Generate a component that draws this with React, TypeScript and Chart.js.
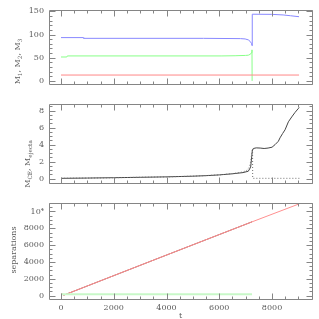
import React, { useEffect, useRef } from 'react';
import { Chart, registerables } from 'chart.js';
Chart.register(...registerables);

// ---------- data ----------
const T_MIN = -455;
const T_MAX = 9515;
const xTicks = [0, 2000, 4000, 6000, 8000];
const xTickLabels = ['0', '2000', '4000', '6000', '8000'];

// panel 1: masses
const m1T = [0, 840, 860, 5400, 6800, 6980, 7100, 7170, 7220, 7242, 7250, 7990, 8420, 8700, 9024];
const m1V = [93.4, 93.4, 91.8, 91.8, 91.2, 90.5, 88.5, 85.2, 81, 76, 143.8, 143.5, 142.2, 140.5, 138.4];
const m2T = [0, 220, 240, 6100, 6600, 7000, 7100, 7180, 7220, 7240, 7245];
const m2V = [51.6, 51.6, 53.9, 53.9, 54.3, 55, 55.5, 57.5, 61, 67, 0];
const m3T = [0, 9024];
const m3V = [12.7, 12.7];
const y1Ticks = [0, 50, 100, 150];
const y1TickLabels = ['0', '50', '100', '150'];

// panel 2: common-envelope and ejecta mass
const mceT = [0, 1000, 2000, 3000, 4000, 5000, 5500, 6000, 6500, 6900, 7100, 7190, 7230, 7250, 7290, 7400, 7550, 7700, 7850, 8000, 8114, 8240, 8303, 8400, 8493, 8620, 8746, 8872, 8998, 9036];
const mceV = [0.05, 0.08, 0.12, 0.17, 0.22, 0.3, 0.36, 0.45, 0.58, 0.72, 0.88, 1.36, 2.6, 3.24, 3.55, 3.62, 3.6, 3.55, 3.6, 3.7, 4.0, 4.4, 4.8, 5.3, 5.74, 6.68, 7.25, 7.78, 8.25, 8.35];
const mejT = [0, 1000, 2000, 3000, 4000, 5000, 6000, 6500, 6900, 7050, 7150, 7200, 7230, 7250, 7262, 7266, 9036];
const mejV = [0.05, 0.08, 0.12, 0.17, 0.22, 0.3, 0.45, 0.6, 0.8, 1.0, 1.4, 2.2, 3.0, 3.45, 3.55, 0.05, 0.05];
const y2Ticks = [0, 2, 4, 6, 8];
const y2TickLabels = ['0', '2', '4', '6', '8'];

// panel 3: separations
const sepAT = [0, 110, 3750, 7170, 9030];
const sepAV = [260, 70, 4520, 8680, 10900];
const sepBT = [0, 110, 3750, 7170, 7242];
const sepBV = [260, 70, 4520, 8680, 8770];
const sepCT = [0, 7242];
const sepCV = [170, 170];
const y3Ticks = [0, 2000, 4000, 6000, 8000, 10000];
const y3TickLabels = ['0', '2000', '4000', '6000', '8000', '10⁴'];

// ---------- styling ----------
const FONT = '"DejaVu Serif", serif';
const FRAME = '#858585';
const TEXT = '#5c5c5c';

type Part = { t: string; sub?: boolean };

function pts(t: number[], v: number[]) {
  return t.map((x, i) => ({ x, y: v[i] }));
}

function drawRich(ctx: CanvasRenderingContext2D, parts: Part[], x: number, y: number, rot: number, size: number) {
  ctx.save();
  ctx.translate(x, y);
  ctx.rotate(rot);
  ctx.fillStyle = TEXT;
  ctx.textBaseline = 'alphabetic';
  ctx.textAlign = 'left';
  const widths = parts.map((p) => {
    ctx.font = `${p.sub ? size * 0.72 : size}px ${FONT}`;
    return ctx.measureText(p.t).width;
  });
  const total = widths.reduce((a, b) => a + b, 0);
  let cx = -total / 2;
  parts.forEach((p, i) => {
    ctx.font = `${p.sub ? size * 0.72 : size}px ${FONT}`;
    ctx.fillText(p.t, cx, p.sub ? size * 0.3 : 0);
    cx += widths[i];
  });
  ctx.restore();
}

function range(a: number, b: number, step: number) {
  const out: number[] = [];
  for (let v = Math.ceil(a / step) * step; v <= b + 1e-9; v += step) out.push(v);
  return out;
}

interface PanelDef {
  top: number;
  bottomPad: number;
  yMin: number;
  yMax: number;
  yTicks: number[];
  yLabels: string[];
  yMinor: number;
  showX: boolean;
  datasets: any[];
  title: Part[];
  titleX: number;
  titleY: number;
}

const MAJ = 6;
const MIN = 3;

function makeFramePlugin(p: PanelDef) {
  return {
    id: 'frameTicks',
    afterDatasetsDraw(chart: any) {
      const { ctx, chartArea: a, scales } = chart;
      const xs = scales.x;
      const ys = scales.y;
      ctx.save();
      ctx.strokeStyle = FRAME;
      ctx.lineWidth = 1;
      const L = Math.round(a.left) + 0.5;
      const R = Math.round(a.right) + 0.5;
      const T = Math.round(a.top) + 0.5;
      const B = Math.round(a.bottom) + 0.5;
      ctx.beginPath();
      ctx.rect(L, T, R - L, B - T);
      ctx.stroke();
      ctx.beginPath();
      const xMinor = range(T_MIN, T_MAX, 500);
      xMinor.forEach((v) => {
        const px = Math.round(xs.getPixelForValue(v)) + 0.5;
        const len = xTicks.includes(v) ? MAJ : MIN;
        ctx.moveTo(px, B); ctx.lineTo(px, B - len);
        ctx.moveTo(px, T); ctx.lineTo(px, T + len);
      });
      const yMinor = range(p.yMin, p.yMax, p.yMinor);
      yMinor.forEach((v) => {
        const py = Math.round(ys.getPixelForValue(v)) + 0.5;
        const len = p.yTicks.some((t) => Math.abs(t - v) < 1e-9) ? MAJ : MIN;
        ctx.moveTo(L, py); ctx.lineTo(L + len, py);
        ctx.moveTo(R, py); ctx.lineTo(R - len, py);
      });
      ctx.stroke();
      ctx.restore();
    },
    afterDraw(chart: any) {
      const { ctx, chartArea: a } = chart;
      drawRich(ctx, p.title, p.titleX, p.titleY, -Math.PI / 2, 8);
      if (p.showX) {
        drawRich(ctx, [{ t: 't' }], (a.left + a.right) / 2, 318, 0, 8);
      }
    },
  };
}

function line(data: { x: number; y: number }[], color: string, width = 1, dash: number[] = []) {
  return {
    data,
    showLine: true,
    borderColor: color,
    backgroundColor: color,
    borderWidth: width,
    borderDash: dash,
    pointRadius: 0,
    tension: 0,
    fill: false,
  };
}

const panels: PanelDef[] = [
  {
    top: 7,
    bottomPad: 319 - 104,
    yMin: -6.6,
    yMax: 153.3,
    yTicks: y1Ticks,
    yLabels: y1TickLabels,
    yMinor: 10,
    showX: false,
    datasets: [
      line(pts(m3T, m3V), '#ff8888'),
      line(pts(m2T, m2V), '#88ff88'),
      line(pts(m1T, m1V), '#8888ff'),
    ],
    title: [{ t: 'M' }, { t: '1', sub: true }, { t: ', ' }, { t: 'M' }, { t: '2', sub: true }, { t: ', ' }, { t: 'M' }, { t: '3', sub: true }],
    titleX: 20,
    titleY: 61.5,
  },
  {
    top: 104,
    bottomPad: 319 - 203,
    yMin: -0.5,
    yMax: 8.77,
    yTicks: y2Ticks,
    yLabels: y2TickLabels,
    yMinor: 0.5,
    showX: false,
    datasets: [
      line(pts(mejT, mejV), '#707070', 1, [1, 2]),
      line(pts(mceT, mceV), '#454545'),
    ],
    title: [{ t: 'M' }, { t: 'CE', sub: true }, { t: ', ' }, { t: 'M' }, { t: 'ejecta', sub: true }],
    titleX: 30,
    titleY: 164,
  },
  {
    top: 203,
    bottomPad: 0,
    yMin: -392,
    yMax: 11003,
    yTicks: y3Ticks,
    yLabels: y3TickLabels,
    yMinor: 500,
    showX: true,
    datasets: [
      line(pts(sepCT, sepCV), '#c8f8c8', 2),
      line(pts(sepAT, sepAV), '#ff9090'),
      line(pts(sepBT, sepBV), '#8c5050'),
    ],
    title: [{ t: 'separations' }],
    titleX: 15.5,
    titleY: 250,
  },
];

function Panel({ def }: { def: PanelDef }) {
  const ref = useRef<HTMLCanvasElement | null>(null);
  useEffect(() => {
    if (!ref.current) return;
    const chart = new Chart(ref.current, {
      type: 'scatter',
      data: { datasets: def.datasets },
      options: {
        animation: false,
        responsive: false,
        events: [],
        layout: { padding: { left: 0, right: 7, top: def.top, bottom: def.bottomPad } },
        plugins: { legend: { display: false }, tooltip: { enabled: false } },
        scales: {
          x: {
            type: 'linear',
            min: T_MIN,
            max: T_MAX,
            display: def.showX,
            position: 'bottom',
            grid: { display: false, drawTicks: false },
            border: { display: false },
            ticks: {
              color: TEXT,
              font: { family: FONT, size: 8 },
              padding: 4,
              maxRotation: 0,
              autoSkip: false,
              callback: (_v: any, i: number) => xTickLabels[i],
            },
            afterBuildTicks: (s: any) => {
              s.ticks = xTicks.map((v) => ({ value: v }));
            },
            afterFit: (s: any) => {
              s.height = 20;
            },
          },
          y: {
            type: 'linear',
            min: def.yMin,
            max: def.yMax,
            grid: { display: false, drawTicks: false },
            border: { display: false },
            ticks: {
              color: TEXT,
              font: { family: FONT, size: 8 },
              padding: 5,
              autoSkip: false,
              callback: (_v: any, i: number) => def.yLabels[i],
            },
            afterBuildTicks: (s: any) => {
              s.ticks = def.yTicks.map((v) => ({ value: v }));
            },
            afterFit: (s: any) => {
              s.width = 49;
            },
          },
        },
      } as any,
      plugins: [makeFramePlugin(def)],
    });
    return () => chart.destroy();
  }, [def]);
  return (
    <canvas
      ref={ref}
      width={319}
      height={319}
      style={{ position: 'absolute', left: 0, top: 0, width: 319, height: 319 }}
    />
  );
}

export default function App() {
  return (
    <div style={{ position: 'fixed', left: 0, top: 0, width: 319, height: 319, background: '#fff' }}>
      {panels.map((p, i) => (
        <Panel key={i} def={p} />
      ))}
    </div>
  );
}
